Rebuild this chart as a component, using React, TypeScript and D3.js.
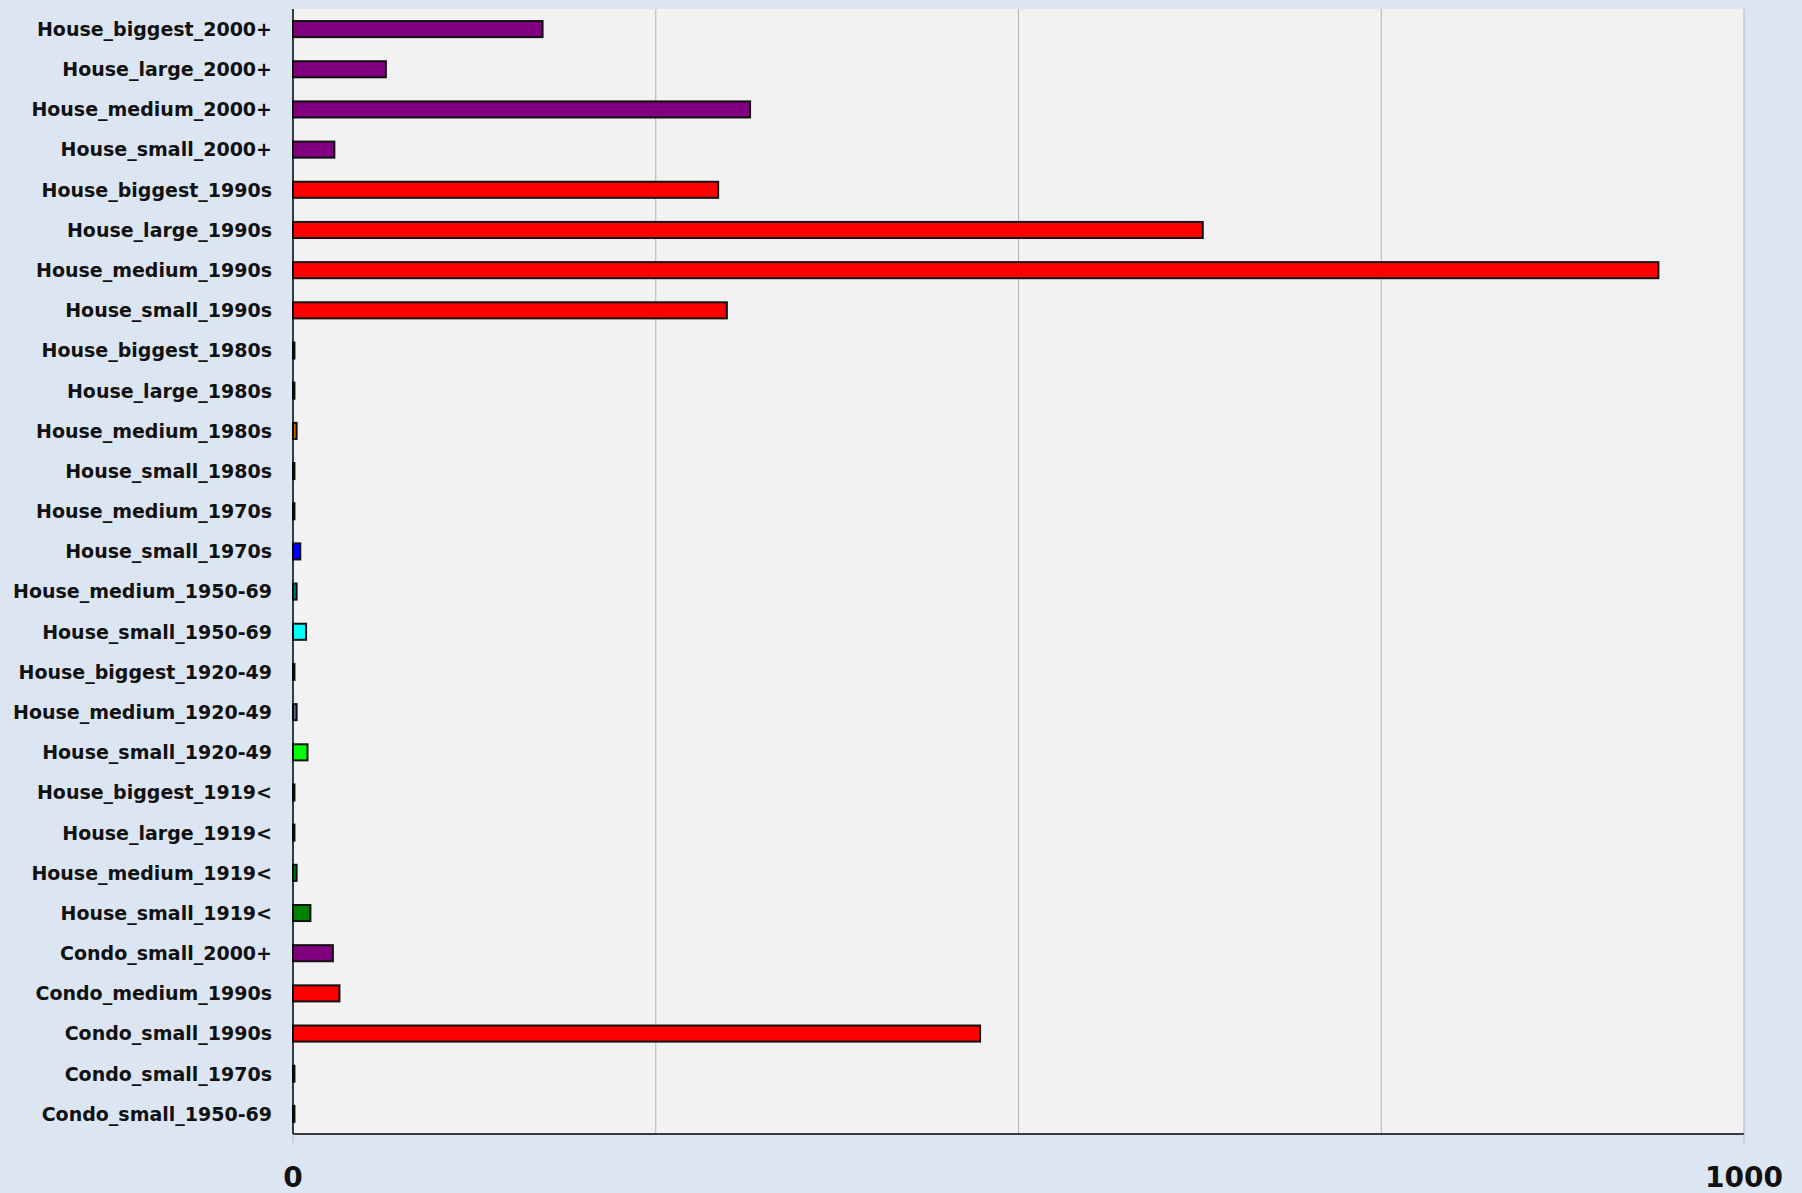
import { useEffect, useRef } from "react"
import * as d3 from "d3"

const categories = [
  "House_biggest_2000+", "House_large_2000+", "House_medium_2000+", "House_small_2000+",
  "House_biggest_1990s", "House_large_1990s", "House_medium_1990s", "House_small_1990s",
  "House_biggest_1980s", "House_large_1980s", "House_medium_1980s", "House_small_1980s",
  "House_medium_1970s", "House_small_1970s", "House_medium_1950-69", "House_small_1950-69",
  "House_biggest_1920-49", "House_medium_1920-49", "House_small_1920-49",
  "House_biggest_1919<", "House_large_1919<", "House_medium_1919<", "House_small_1919<",
  "Condo_small_2000+", "Condo_medium_1990s", "Condo_small_1990s", "Condo_small_1970s",
  "Condo_small_1950-69",
]

const values = [
  172, 64, 315, 28.5,
  293, 627, 941, 299,
  1, 1, 2.5, 1,
  1, 5, 2.5, 9,
  1, 2.5, 10,
  1, 1, 2.5, 12,
  27.5, 32, 473.5, 1,
  1,
]

const fills = [
  "#800080", "#800080", "#800080", "#800080",
  "#ff0000", "#ff0000", "#ff0000", "#ff0000",
  "#cc6600", "#cc6600", "#cc6600", "#cc6600",
  "#0000ff", "#0000ff", "#008080", "#00ffff",
  "#666699", "#666699", "#00ff00",
  "#008000", "#008000", "#008000", "#008000",
  "#800080", "#ff0000", "#ff0000", "#0000ff",
  "#00ffff",
]

const xTicks = [0, 1000]
const gridValues = [250, 500, 750, 1000]

export default function App() {
  const ref = useRef<HTMLDivElement>(null)

  useEffect(() => {
    document.body.style.margin = "0"
    const width = 1802
    const height = 1193
    const margin = { top: 9, right: 58, bottom: 59, left: 293 }

    const container = d3.select(ref.current)
    container.selectAll("*").remove()

    const svg = container
      .append("svg")
      .attr("width", width)
      .attr("height", height)
      .style("display", "block")
      .style("font-family", "'DejaVu Sans', Verdana, sans-serif")

    // Outer background
    svg.append("rect")
      .attr("width", width)
      .attr("height", height)
      .attr("fill", "#dce6f2")

    const x = d3.scaleLinear()
      .domain([0, 1000])
      .range([margin.left, width - margin.right])

    const y = d3.scaleBand()
      .domain(categories)
      .range([margin.top, height - margin.bottom])
      .paddingInner(0.6)
      .paddingOuter(0.3)

    // Plot area
    svg.append("rect")
      .attr("x", margin.left)
      .attr("y", margin.top)
      .attr("width", x(1000) - x(0))
      .attr("height", height - margin.bottom - margin.top)
      .attr("fill", "#f2f2f2")

    // Vertical gridlines
    svg.append("g")
      .selectAll("line")
      .data(gridValues)
      .join("line")
      .attr("x1", d => x(d))
      .attr("x2", d => x(d))
      .attr("y1", margin.top)
      .attr("y2", height - margin.bottom)
      .attr("stroke", "#b4b4b4")
      .attr("stroke-width", 1)

    // Bars
    svg.append("g")
      .selectAll("rect")
      .data(categories)
      .join("rect")
      .attr("x", x(0))
      .attr("y", d => y(d)!)
      .attr("width", (_, i) => x(values[i]) - x(0))
      .attr("height", y.bandwidth())
      .attr("fill", (_, i) => fills[i])
      .attr("stroke", "#111")
      .attr("stroke-width", 2)

    // Category labels
    svg.append("g")
      .selectAll("text")
      .data(categories)
      .join("text")
      .attr("x", margin.left - 21)
      .attr("y", d => y(d)! + y.bandwidth() / 2)
      .attr("dy", "0.36em")
      .attr("text-anchor", "end")
      .attr("font-size", 19)
      .attr("font-weight", "bold")
      .attr("fill", "#111")
      .text(d => d)

    // Left axis line
    svg.append("line")
      .attr("x1", x(0))
      .attr("x2", x(0))
      .attr("y1", margin.top)
      .attr("y2", height - margin.bottom)
      .attr("stroke", "#000")
      .attr("stroke-width", 1.5)

    // Bottom axis line
    svg.append("line")
      .attr("x1", x(0))
      .attr("x2", x(1000))
      .attr("y1", height - margin.bottom)
      .attr("y2", height - margin.bottom)
      .attr("stroke", "#000")
      .attr("stroke-width", 1.5)

    // Tick marks and labels
    const ticks = svg.append("g")
    ticks.selectAll("line")
      .data(xTicks)
      .join("line")
      .attr("x1", d => x(d))
      .attr("x2", d => x(d))
      .attr("y1", height - margin.bottom)
      .attr("y2", height - margin.bottom + 9)
      .attr("stroke", "#b4b4b4")
      .attr("stroke-width", 1)

    ticks.selectAll("text")
      .data(xTicks)
      .join("text")
      .attr("x", d => x(d))
      .attr("y", height - 6)
      .attr("text-anchor", "middle")
      .attr("font-size", 28)
      .attr("font-weight", "bold")
      .attr("fill", "#111")
      .text(d => d)
  }, [])

  return <div ref={ref} />
}
